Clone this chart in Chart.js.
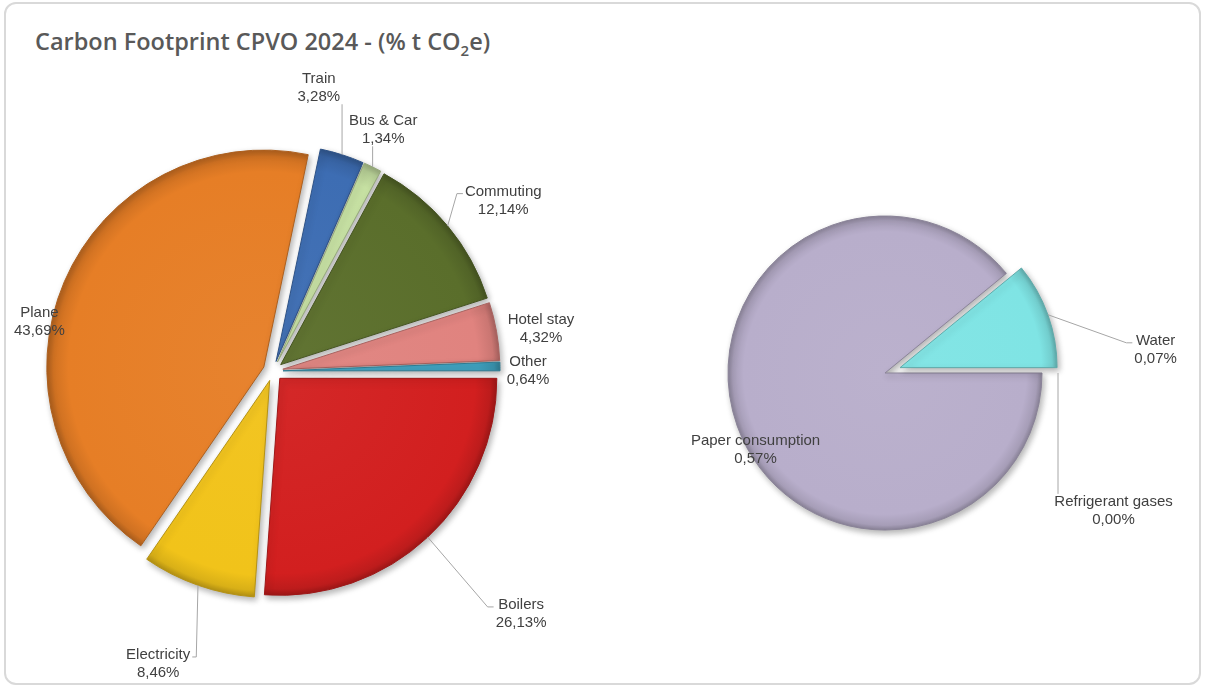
<!DOCTYPE html>
<html lang="en">
<head>
    <meta charset="UTF-8">
    <title>Carbon Footprint CPVO 2024</title>
    <script src="https://cdn.jsdelivr.net/npm/chart.js"></script>
    <style>
        body {
            margin: 0;
            background: #ffffff;
            width: 1205px;
            height: 686px;
            position: relative;
            overflow: hidden;
        }
        .frame {
            position: absolute;
            left: 4px;
            top: 2px;
            width: 1197px;
            height: 683px;
            border: 2px solid #d9d9d9;
            border-radius: 12px;
            box-sizing: border-box;
        }
        .title {
            position: absolute;
            left: 35px;
            top: 26px;
            margin: 0;
            font: 600 23.5px/30px "Open Sans", sans-serif;
            color: #595959;
            white-space: nowrap;
        }
        .title sub {
            font-size: 15px;
            line-height: 0;
        }
        #mainPie { position: absolute; left: 0; top: 0; }
        #otherPie { position: absolute; left: 620px; top: 0; }
    </style>
</head>
<body>
    <div class="frame"></div>
    <div class="title">Carbon Footprint CPVO 2024 - (% t CO<sub>2</sub>e)</div>
    <canvas id="mainPie" width="620" height="686"></canvas>
    <canvas id="otherPie" width="585" height="686"></canvas>

    <script>
        // share of total t CO2e, starting at 3 o'clock, clockwise
        const mainLabels = ['Boilers', 'Electricity', 'Plane', 'Train', 'Bus & Car', 'Commuting', 'Hotel stay', 'Other'];
        const mainValues = [26.13, 8.46, 43.69, 3.28, 1.34, 12.14, 4.32, 0.64];

        // breakdown of the "Other" slice
        const otherLabels = ['Paper consumption', 'Water', 'Refrigerant gases'];
        const otherValues = [0.57, 0.07, 0.00];

        const mainColors = ['#D21F1F', '#F1C31A', '#E67E26', '#3D6DB3', '#C6E0A2', '#5A6E2B', '#E0837F', '#3FA2C0'];
        const otherColors = ['#B8AECB', '#7FE4E4', '#9BBB59'];

        // how far each slice is pulled out of its pie (px)
        const mainExplode = [10, 10, 10, 10, 10, 10, 10, 10];
        const otherExplode = [0, 16, 16];

        // data label spot: angle (deg clockwise from 12 o'clock), distance (x radius), leader side
        const mainLabelSpots = [
            [134.4, 1.60, 'left'],
            [201.4, 1.45, 'right'],
            [281.9, 1.10, null],
            [9.2, 1.32, 'bottom'],
            [24.6, 1.22, 'bottom'],
            [53.5, 1.32, 'left'],
            [81.1, 1.25, null],
            [90.0, 1.175, null]
        ];
        const otherLabelSpots = [
            [239.2, 0.96, null],
            [85.1, 1.73, 'left'],
            [121.1, 1.70, 'top']
        ];

        const MAIN_RADIUS = 217;
        const OTHER_RADIUS = 157;
        const LABEL_FONT = '15px "Liberation Sans", Arial, sans-serif';
        const LINE_H = 18;

        function shade(hex, f) {
            const n = parseInt(hex.slice(1), 16);
            const ch = [(n >> 16) & 255, (n >> 8) & 255, n & 255].map(v =>
                Math.round(f < 0 ? v * (1 + f) : v + (255 - v) * f));
            return 'rgb(' + ch.join(',') + ')';
        }

        function fmt(v) {
            return v.toFixed(2).replace('.', ',') + '%';
        }

        // rounded rim on every slice
        function bevelFill(colors, radius) {
            return (c) => {
                const base = colors[c.dataIndex];
                const area = c.chart.chartArea;
                if (!area) return base;
                const cx = (area.left + area.right) / 2;
                const cy = (area.top + area.bottom) / 2;
                const g = c.chart.ctx.createRadialGradient(cx, cy, 0, cx, cy, radius);
                g.addColorStop(0, shade(base, 0.04));
                g.addColorStop(0.9, base);
                g.addColorStop(0.97, shade(base, -0.1));
                g.addColorStop(1, shade(base, -0.25));
                return g;
            };
        }

        // draws each arc pulled out along its mid angle, with a drop shadow
        function explodePlugin(distances) {
            return {
                id: 'explode',
                beforeDatasetDraw(chart, args) {
                    const ctx = chart.ctx;
                    args.meta.data.forEach((arc, i) => {
                        const mid = (arc.startAngle + arc.endAngle) / 2;
                        const d = distances[i] || 0;
                        ctx.save();
                        ctx.translate(Math.cos(mid) * d, Math.sin(mid) * d);
                        ctx.shadowColor = 'rgba(0, 0, 0, 0.3)';
                        ctx.shadowBlur = 6;
                        ctx.shadowOffsetX = 2;
                        ctx.shadowOffsetY = 3;
                        arc.draw(ctx);
                        ctx.restore();
                    });
                    return false;
                }
            };
        }

        // name + value labels with grey leader lines
        function labelPlugin(spots, distances) {
            return {
                id: 'sliceLabels',
                afterDatasetsDraw(chart) {
                    const ctx = chart.ctx;
                    const meta = chart.getDatasetMeta(0);
                    const values = chart.data.datasets[0].data;
                    ctx.save();
                    ctx.font = LABEL_FONT;
                    ctx.textAlign = 'center';
                    ctx.textBaseline = 'middle';
                    ctx.lineWidth = 1;
                    meta.data.forEach((arc, i) => {
                        const [deg, dist, side] = spots[i];
                        const R = arc.outerRadius;
                        const a = (deg - 90) * Math.PI / 180;
                        const lx = arc.x + Math.cos(a) * dist * R;
                        const ly = arc.y + Math.sin(a) * dist * R;
                        const lines = [chart.data.labels[i], fmt(values[i])];
                        const w = Math.max(...lines.map(t => ctx.measureText(t).width));
                        const box = { l: lx - w / 2, r: lx + w / 2, t: ly - LINE_H + 1, b: ly + LINE_H - 2 };

                        if (side) {
                            const mid = (arc.startAngle + arc.endAngle) / 2;
                            const rr = R + (distances[i] || 0);
                            const sx = arc.x + Math.cos(mid) * rr;
                            const sy = arc.y + Math.sin(mid) * rr;
                            ctx.strokeStyle = '#a6a6a6';
                            ctx.beginPath();
                            ctx.moveTo(sx, sy);
                            if (side === 'left') {
                                ctx.lineTo(box.l - 8, ly - 7);
                                ctx.lineTo(box.l - 2, ly - 7);
                            } else if (side === 'right') {
                                ctx.lineTo(box.r + 6, ly - 7);
                                ctx.lineTo(box.r + 2, ly - 7);
                            } else if (side === 'bottom') {
                                ctx.lineTo(sx, box.b);
                            } else {
                                ctx.lineTo(sx, box.t);
                            }
                            ctx.stroke();
                        }

                        ctx.fillStyle = '#404040';
                        lines.forEach((t, k) => ctx.fillText(t, lx, ly + (k - 0.5) * LINE_H));
                    });
                    ctx.restore();
                }
            };
        }

        function pieConfig(labels, values, colors, radius, explode, spots, padding) {
            return {
                type: 'pie',
                data: {
                    labels: labels,
                    datasets: [{
                        data: values,
                        backgroundColor: bevelFill(colors, radius),
                        borderColor: colors.map(c => shade(c, -0.25)),
                        borderWidth: 1
                    }]
                },
                options: {
                    responsive: false,
                    animation: false,
                    rotation: 90,
                    radius: radius,
                    layout: { padding: padding },
                    plugins: {
                        legend: { display: false },
                        tooltip: { enabled: false }
                    }
                },
                plugins: [explodePlugin(explode), labelPlugin(spots, explode)]
            };
        }

        new Chart(document.getElementById('mainPie'),
            pieConfig(mainLabels, mainValues, mainColors, MAIN_RADIUS, mainExplode, mainLabelSpots,
                { left: 0, right: 74, top: 56, bottom: 0 }));

        new Chart(document.getElementById('otherPie'),
            pieConfig(otherLabels, otherValues, otherColors, OTHER_RADIUS, otherExplode, otherLabelSpots,
                { left: 0, right: 55, top: 60, bottom: 0 }));
    </script>
</body>
</html>
